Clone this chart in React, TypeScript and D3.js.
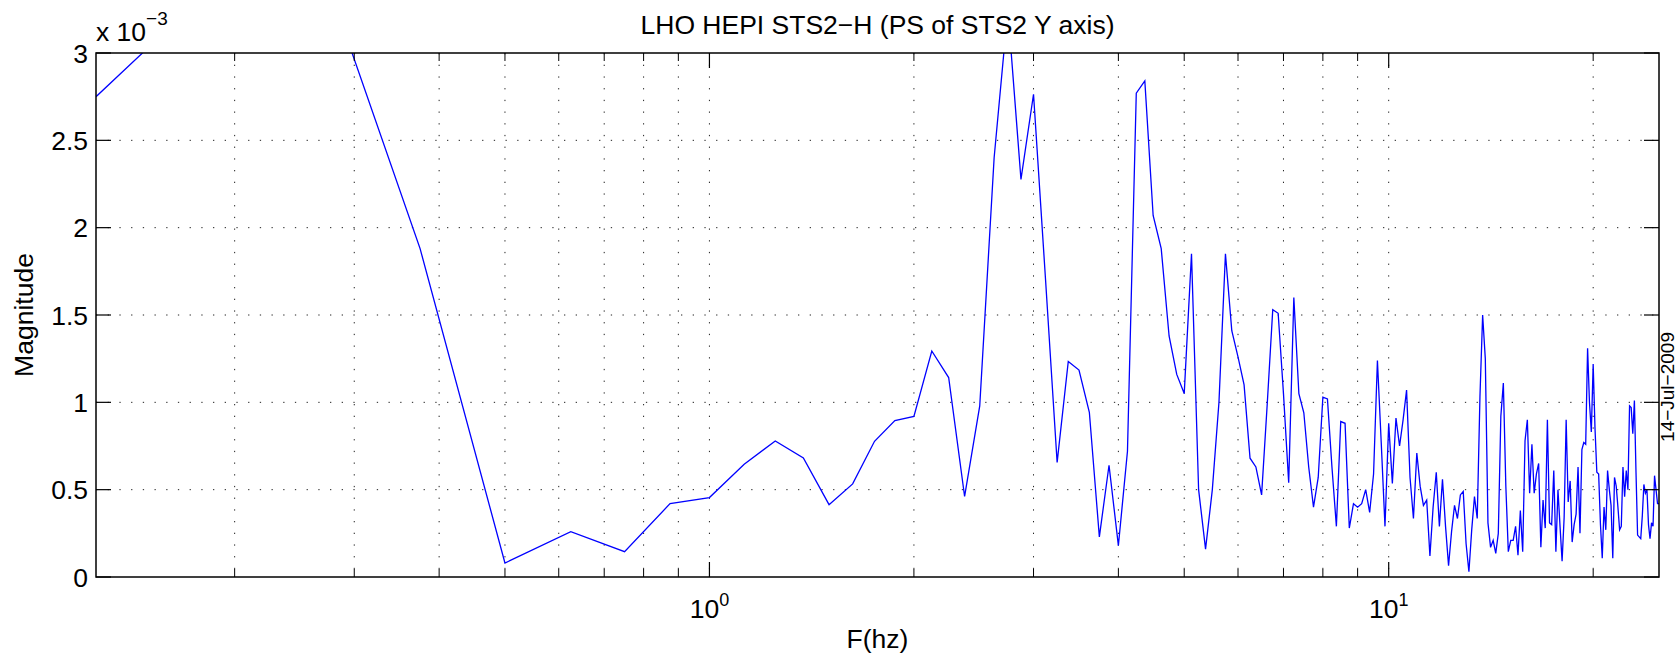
import React from 'react';
import * as d3 from 'd3';

// ---- data (magnitude in units of 1e-3, one value per FFT bin, bin k at k * FREQ_STEP_HZ) ----
const FREQ_STEP_HZ = 0.125;
const MAGNITUDE_E3: number[] = [
  2.75, 3.85, 1.88, 0.08, 0.26, 0.145, 0.42, 0.455, 0.646, 0.779,
  0.681, 0.414, 0.533, 0.777, 0.896, 0.919, 1.294, 1.142, 0.461, 0.98,
  2.4, 3.25, 2.276, 2.764, 1.7, 0.656, 1.234, 1.185, 0.943, 0.23,
  0.64, 0.18, 0.72, 2.77, 2.84, 2.07, 1.88, 1.38, 1.16, 1.05,
  1.85, 0.5, 0.16, 0.5, 1.0, 1.85, 1.41, 1.26, 1.1, 0.68,
  0.63, 0.47, 0.99, 1.53, 1.51, 1.05, 0.54, 1.6, 1.05, 0.94,
  0.63, 0.4, 0.57, 1.03, 1.02, 0.63, 0.29, 0.89, 0.88, 0.28,
  0.42, 0.4, 0.42, 0.5, 0.37, 0.59, 1.24, 0.77, 0.29, 0.88,
  0.535, 0.91, 0.75, 0.9, 1.07, 0.57, 0.335, 0.71, 0.52, 0.41,
  0.44, 0.12, 0.4, 0.6, 0.29, 0.56, 0.29, 0.065, 0.26, 0.41,
  0.335, 0.47, 0.49, 0.19, 0.03, 0.27, 0.46, 0.335, 1.03, 1.5,
  1.25, 0.31, 0.17, 0.21, 0.135, 0.25, 0.92, 1.11, 0.52, 0.145,
  0.21, 0.21, 0.29, 0.125, 0.38, 0.145, 0.78, 0.9, 0.48, 0.76,
  0.48, 0.59, 0.65, 0.17, 0.44, 0.28, 0.9, 0.31, 0.3, 0.61,
  0.145, 0.5, 0.29, 0.09, 0.34, 0.9, 0.43, 0.55, 0.2, 0.3,
  0.36, 0.63, 0.25, 0.73, 0.77, 0.76, 1.31, 1.0, 0.83, 1.22,
  0.85, 0.6, 0.59, 0.3, 0.107, 0.4, 0.27, 0.61, 0.5, 0.41,
  0.107, 0.57, 0.52, 0.4, 0.27, 0.29, 0.63, 0.46, 0.61, 0.5,
  0.98, 0.97, 0.82, 1.01, 0.6, 0.24, 0.23, 0.22, 0.35, 0.53,
  0.48, 0.5, 0.3, 0.22, 0.31, 0.29, 0.58, 0.5, 0.42, 0.42,
];

const X_DOMAIN = [0.125, 25];
const Y_DOMAIN = [0, 3];
const X_MAJOR_TICKS = [1, 10];
const X_MAJOR_LABEL_EXP = ['0', '1'];
const X_MINOR_TICKS = [0.2, 0.3, 0.4, 0.5, 0.6, 0.7, 0.8, 0.9, 2, 3, 4, 5, 6, 7, 8, 9, 20];
const Y_TICKS = [0, 0.5, 1, 1.5, 2, 2.5, 3];
const Y_TICK_LABELS = ['0', '0.5', '1', '1.5', '2', '2.5', '3'];

const TITLE = 'LHO HEPI STS2\u2212H (PS of STS2 Y axis)';
const X_LABEL = 'F(hz)';
const Y_LABEL = 'Magnitude';
const DATE_LABEL = '14\u2212Jul\u22122009';
const Y_EXP_LABEL = '\u22123';

// ---- layout ----
const W = 1679;
const H = 660;
const L = 96;
const R = 1659;
const T = 53;
const B = 577;
const FONT = '"Liberation Sans", Arial, Helvetica, sans-serif';
const FS = 26.5;

export default function App() {
  const x = d3.scaleLog().domain(X_DOMAIN).range([L, R]);
  const y = d3.scaleLinear().domain(Y_DOMAIN).range([B, T]);

  const points: [number, number][] = MAGNITUDE_E3.map((v, i) => [(i + 1) * FREQ_STEP_HZ, v]);
  const line = d3
    .line<[number, number]>()
    .x((d) => x(d[0]))
    .y((d) => y(d[1]));

  const gridStyle = { stroke: '#222', strokeWidth: 1, strokeDasharray: '1.3,10.4', fill: 'none' } as const;
  const allX = [...X_MINOR_TICKS, ...X_MAJOR_TICKS];

  return (
    <svg
      width={W}
      height={H}
      style={{ position: 'absolute', left: 0, top: 0, display: 'block', background: '#fff' }}
      fontFamily={FONT}
    >
      <rect x={0} y={0} width={W} height={H} fill="#fff" />
      <defs>
        <clipPath id="plotclip">
          <rect x={L} y={T} width={R - L} height={B - T} />
        </clipPath>
      </defs>

      {/* grid */}
      {allX.map((t) => (
        <line key={'gx' + t} x1={x(t)} x2={x(t)} y1={T} y2={B} style={gridStyle} />
      ))}
      {Y_TICKS.filter((t) => t > Y_DOMAIN[0] && t < Y_DOMAIN[1]).map((t) => (
        <line key={'gy' + t} x1={L} x2={R} y1={y(t)} y2={y(t)} style={gridStyle} />
      ))}

      {/* data */}
      <path
        d={line(points) || ''}
        fill="none"
        stroke="#0000ff"
        strokeWidth={1.3}
        strokeLinejoin="miter"
        clipPath="url(#plotclip)"
      />

      {/* axes box */}
      <rect x={L} y={T} width={R - L} height={B - T} fill="none" stroke="#000" strokeWidth={1.5} />

      {/* x ticks */}
      {X_MINOR_TICKS.map((t) => (
        <g key={'mx' + t} stroke="#000" strokeWidth={1}>
          <line x1={x(t)} x2={x(t)} y1={B} y2={B - 8} />
          <line x1={x(t)} x2={x(t)} y1={T} y2={T + 8} />
        </g>
      ))}
      {X_MAJOR_TICKS.map((t) => (
        <g key={'Mx' + t} stroke="#000" strokeWidth={1.2}>
          <line x1={x(t)} x2={x(t)} y1={B} y2={B - 15} />
          <line x1={x(t)} x2={x(t)} y1={T} y2={T + 15} />
        </g>
      ))}
      {X_MAJOR_TICKS.map((t, i) => (
        <text key={'xl' + t} x={x(t)} y={618} fontSize={FS} textAnchor="middle" fill="#000">
          10
          <tspan fontSize={18} dy={-12}>
            {X_MAJOR_LABEL_EXP[i]}
          </tspan>
        </text>
      ))}

      {/* y ticks */}
      {Y_TICKS.map((t, i) => (
        <g key={'yt' + t}>
          <line x1={L} x2={L + 15} y1={y(t)} y2={y(t)} stroke="#000" strokeWidth={1.2} />
          <line x1={R} x2={R - 15} y1={y(t)} y2={y(t)} stroke="#000" strokeWidth={1.2} />
          <text x={88} y={y(t)} dy="0.36em" fontSize={FS} textAnchor="end" fill="#000">
            {Y_TICK_LABELS[i]}
          </text>
        </g>
      ))}

      {/* exponent label */}
      <text x={L} y={41} fontSize={FS} fill="#000">
        x 10
        <tspan fontSize={19} dy={-16}>
          {Y_EXP_LABEL}
        </tspan>
      </text>

      {/* title */}
      <text x={(L + R) / 2} y={34} fontSize={FS} textAnchor="middle" fill="#000">
        {TITLE}
      </text>

      {/* axis labels */}
      <text x={(L + R) / 2} y={648} fontSize={FS} textAnchor="middle" fill="#000">
        {X_LABEL}
      </text>
      <text
        transform={`translate(33, ${(T + B) / 2}) rotate(-90)`}
        fontSize={FS}
        textAnchor="middle"
        fill="#000"
      >
        {Y_LABEL}
      </text>

      {/* date stamp */}
      <text
        transform={`translate(1674, 387) rotate(-90)`}
        fontSize={19}
        textAnchor="middle"
        fill="#000"
      >
        {DATE_LABEL}
      </text>
    </svg>
  );
}
